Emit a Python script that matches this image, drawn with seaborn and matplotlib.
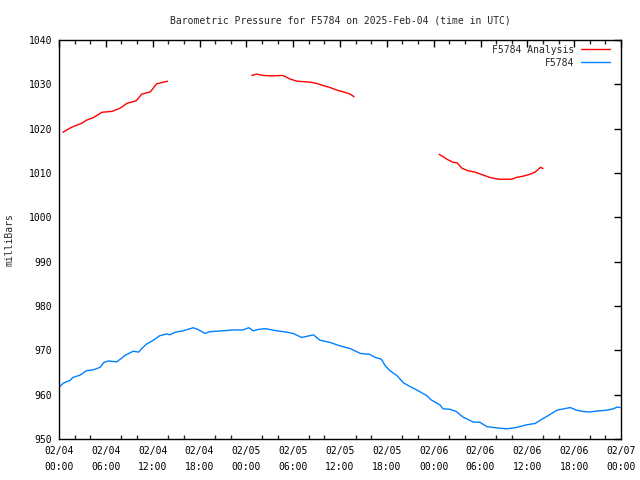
import numpy as np
import pandas as pd
import matplotlib
matplotlib.use("Agg")
import matplotlib.pyplot as plt
import matplotlib.dates as mdates
import seaborn as sns

# ---- data (hours after 2025-02-04 00:00 UTC, pressure in mb) ----
analysis_hours = [0.5, 1.2, 1.6, 2.3, 2.9, 3.5, 4.4, 5.5, 6.8, 7.8, 8.7, 9.9, 10.6, 11.7, 12.5, 13.4, 13.9,
                  None,
                  24.7, 25.3, 26.2, 27.2, 28.7, 29.6, 30.5, 32.2, 33.0, 33.7, 34.7, 35.6, 36.6, 37.3, 37.8,
                  None,
                  48.7, 49.2, 49.7, 50.5, 51.0, 51.6, 52.4, 53.3, 54.4, 55.2, 56.3, 58.0, 58.6, 59.5, 60.3,
                  61.0, 61.7, 62.0]
analysis_mb = [1019.2, 1019.9, 1020.3, 1020.8, 1021.2, 1021.9, 1022.5, 1023.7, 1023.9, 1024.6, 1025.7,
               1026.3, 1027.8, 1028.3, 1030.1, 1030.5, 1030.7,
               None,
               1032.0, 1032.3, 1032.0, 1031.9, 1032.0, 1031.2, 1030.7, 1030.5, 1030.2, 1029.8, 1029.3,
               1028.7, 1028.2, 1027.8, 1027.2,
               None,
               1014.2, 1013.7, 1013.1, 1012.4, 1012.3, 1011.1, 1010.5, 1010.2, 1009.5, 1009.0, 1008.6,
               1008.6, 1009.0, 1009.3, 1009.7, 1010.2, 1011.3, 1011.0]
segment_id = [0] * 17 + [None] + [1] * 15 + [None] + [2] * 18

station_hours = [0.1, 0.55, 1.4, 1.8, 2.7, 3.5, 4.4, 5.3, 5.7, 6.3, 7.4, 8.5, 9.5, 10.2, 10.6, 11.2,
                 12.1, 12.9, 13.8, 14.2, 14.9, 15.9, 17.2, 17.8, 18.7, 19.3, 21.0, 22.3, 23.6, 24.3,
                 24.9, 25.5, 26.4, 27.9, 29.2, 30.0, 31.1, 32.6, 33.4, 34.7, 36.0, 37.3, 38.6, 39.8,
                 40.5, 41.3, 41.8, 42.4, 43.3, 44.1, 45.0, 46.0, 47.1, 47.7, 48.8, 49.2, 50.1, 50.9,
                 51.8, 53.1, 53.9, 54.8, 56.1, 57.4, 58.6, 59.9, 61.0, 61.8, 62.7, 63.8, 65.5, 66.3,
                 67.2, 68.0, 68.9, 70.2, 71.0, 71.5, 71.9]
station_mb = [961.8, 962.6, 963.2, 963.9, 964.4, 965.4, 965.6, 966.2, 967.2, 967.6, 967.4, 968.9,
              969.8, 969.6, 970.4, 971.4, 972.3, 973.3, 973.7, 973.5, 974.1, 974.4, 975.1, 974.7,
              973.8, 974.2, 974.4, 974.6, 974.6, 975.1, 974.4, 974.7, 974.9, 974.4, 974.1, 973.8,
              972.9, 973.5, 972.3, 971.8, 971.0, 970.4, 969.3, 969.1, 968.4, 968.0, 966.5, 965.4,
              964.3, 962.7, 961.8, 960.9, 959.8, 958.8, 957.7, 956.8, 956.7, 956.2, 954.9, 953.8,
              953.8, 952.8, 952.5, 952.3, 952.6, 953.2, 953.5, 954.4, 955.3, 956.5, 957.1, 956.5,
              956.2, 956.1, 956.3, 956.5, 956.8, 957.2, 957.1]

title = "Barometric Pressure for F5784 on 2025-Feb-04 (time in UTC)"
ylabel = "milliBars"
label_analysis = "F5784 Analysis"
label_station = "F5784"
y_ticks = list(range(950, 1041, 10))

# ---- build frames ----
t0 = pd.Timestamp("2025-02-04 00:00")
a_rows = [(t0 + pd.Timedelta(hours=h), v, s) for h, v, s in zip(analysis_hours, analysis_mb, segment_id)
          if h is not None]
df_a = pd.DataFrame(a_rows, columns=["time", "mb", "seg"])
df_s = pd.DataFrame({"time": [t0 + pd.Timedelta(hours=h) for h in station_hours], "mb": station_mb})

sns.set_style("white")
mono = ["DejaVu Sans Mono"]
plt.rcParams["font.family"] = mono
plt.rcParams["font.size"] = 7

fig = plt.figure(figsize=(6.4, 4.8), dpi=100)
ax = fig.add_axes([59 / 640, 1 - 439 / 480, (621 - 59) / 640, (439 - 40) / 480])

red = "#ff0000"
blue = "#0080ff"
for k, seg in df_a.groupby("seg"):
    sns.lineplot(data=seg, x="time", y="mb", ax=ax, color=red, linewidth=1.0,
                 label=label_analysis if k == 0 else None, estimator=None, sort=True)
sns.lineplot(data=df_s, x="time", y="mb", ax=ax, color=blue, linewidth=1.0,
             label=label_station, estimator=None)

ax.set_xlim(t0, t0 + pd.Timedelta(hours=72))
ax.set_ylim(950, 1040)
ax.set_yticks(y_ticks)
ax.xaxis.set_major_locator(mdates.HourLocator(byhour=range(0, 24, 6)))
ax.xaxis.set_minor_locator(mdates.HourLocator(interval=2))
ax.xaxis.set_major_formatter(mdates.DateFormatter("%m/%d\n%H:%M"))

ax.tick_params(axis="both", which="major", direction="in", length=5, width=1,
               top=True, right=True, labelsize=7, colors="black", pad=5)
ax.tick_params(axis="x", which="minor", direction="in", length=3, width=1, top=True, bottom=True)
fig.canvas.draw()
for lab in ax.get_xticklabels():
    lab.set_fontfamily(mono)
    lab.set_linespacing(1.75)
for sp in ax.spines.values():
    sp.set_visible(True)
    sp.set_color("black")
    sp.set_linewidth(1.0)

ax.set_xlabel("")
ax.set_ylabel(ylabel, fontsize=7, labelpad=10)
ax.set_title(title, fontsize=7, pad=12)

leg = ax.legend(loc="upper right", bbox_to_anchor=(0.989, 1.0), frameon=False, markerfirst=False,
                fontsize=7, handlelength=3.0, handletextpad=0.7, labelspacing=0.3,
                borderaxespad=0.3, borderpad=0.2)

fig.savefig("out.png", dpi=100)
